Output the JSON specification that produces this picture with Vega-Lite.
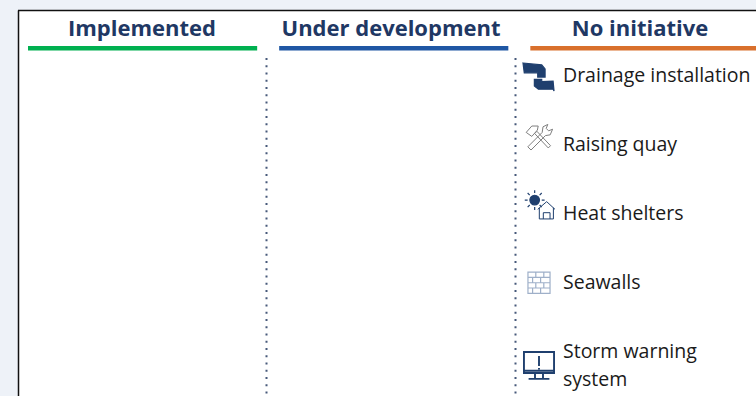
{
"$schema":"https://vega.github.io/schema/vega-lite/v6.json",
"width":738,"height":386,"autosize":{"type":"none"},"padding":{"left":18,"top":10,"right":0,"bottom":0},
"background":"#eef2f8",
"config":{"view":{"fill":"#ffffff","stroke":null}},
"datasets":{
"columns":[{"status":"Implemented"},{"status":"Under development"},{"status":"No initiative"}],
"items":[
{"status":"No initiative","item":"Drainage installation"},
{"status":"No initiative","item":"Raising quay"},
{"status":"No initiative","item":"Heat shelters"},
{"status":"No initiative","item":"Seawalls"},
{"status":"No initiative","item":"Storm warning\nsystem"}]},
"resolve":{"scale":{"x":"independent","y":"independent","shape":"independent"},"axis":{"x":"independent","y":"independent"}},
"layer":[
{"data":{"name":"columns"},"transform":[{"filter":"datum.status !== 'No initiative'"}],
"mark":{"type":"rule","strokeDash":[2,5.25],"strokeWidth":2,"color":"#47597a"},
"encoding":{
"x":{"field":"status","type":"nominal","bandPosition":1,"sort":null,
"scale":{"type":"band","domain":["Implemented","Under development","No initiative"],"range":[-0.5,746.5],"paddingInner":0,"paddingOuter":0},
"axis":{"orient":"top","title":null,"ticks":false,"grid":false,"domain":true,"domainColor":"#111111","domainWidth":1.5,"labelAngle":0,"labelPadding":-30,"labelFont":"Open Sans","labelFontWeight":700,"labelFontSize":22,"labelColor":"#1f3864","labelOverlap":false,"labelBound":false,"labelFlush":false,"labelLimit":0}},
"y":{"datum":0.1244,"type":"quantitative","scale":{"domain":[0,1],"range":[0,386],"nice":false,"zero":false},
"axis":{"title":null,"ticks":false,"labels":false,"grid":false,"domain":true,"domainColor":"#111111","domainWidth":1.5}},
"y2":{"datum":1}}},
{"data":{"name":"columns"},"mark":{"type":"bar"},
"encoding":{
"x":{"field":"status","type":"nominal","axis":null,"sort":null,
"scale":{"type":"band","domain":["Implemented","Under development","No initiative"],"range":[10,741.5],"paddingInner":0.0876,"paddingOuter":0}},
"y":{"datum":"header","type":"nominal","axis":null,"scale":{"type":"band","domain":["header"],"range":[36,40.5],"paddingInner":0,"paddingOuter":0}},
"color":{"field":"status","type":"nominal","legend":null,"scale":{"domain":["Implemented","Under development","No initiative"],"range":["#00b050","#1f57a4","#d9702c"]}}}},
{"data":{"name":"items"},"mark":{"type":"text","align":"left","baseline":"alphabetic","dx":-77,"dy":6.5,"lineBreak":"\n","lineHeight":28,"font":"Open Sans","fontSize":19.5,"color":"#1a1a1a"},
"encoding":{
"x":{"field":"status","type":"nominal","axis":null,"sort":null,
"scale":{"type":"band","domain":["Implemented","Under development","No initiative"],"range":[-0.5,746.5],"paddingInner":0,"paddingOuter":0}},
"y":{"field":"item","type":"nominal","axis":null,"sort":null,
"scale":{"type":"band","domain":["Drainage installation","Raising quay","Heat shelters","Seawalls","Storm warning\nsystem"],"range":[30.4,376.6],"paddingInner":0,"paddingOuter":0}},
"text":{"field":"item"}}},
{"data":{"name":"items"},"mark":{"type":"point","filled":true,"xOffset":-101,"size":1024,"stroke":"#1f3f6e","strokeWidth":1.2,"fill":"#1f3f6e","opacity":1},
"encoding":{
"x":{"field":"status","type":"nominal","axis":null,"sort":null,
"scale":{"type":"band","domain":["Implemented","Under development","No initiative"],"range":[-0.5,746.5],"paddingInner":0,"paddingOuter":0}},
"y":{"field":"item","type":"nominal","axis":null,"sort":null,
"scale":{"type":"band","domain":["Drainage installation","Raising quay","Heat shelters","Seawalls","Storm warning\nsystem"],"range":[30.4,376.6],"paddingInner":0,"paddingOuter":0}},
"shape":{"field":"item","type":"nominal","legend":null,"scale":{"domain":["Drainage installation","Raising quay","Heat shelters","Seawalls","Storm warning\nsystem"],
"range":[
"M-1,-.75 L.17,-.63 L.38,-.38 L.38,.13 L-.08,.13 L-.08,-.14 L-.92,-.14Z M-.29,.27 L.17,.27 L.17,.41 L.88,.38 L.94,1 L.88,.89 L-.04,.89 L-.29,.69Z",
"M0,0Z",
"M-.57,-.84 A.3,.3 0 1 1 .03,-.84 A.3,.3 0 1 1 -.57,-.84Z M-.27,-1.28 L-.27,-1.46 M-.27,-.4 L-.27,-.22 M-.71,-.84 L-.89,-.84 M.17,-.84 L.35,-.84 M-.58,-1.15 L-.71,-1.28 M.04,-1.15 L.17,-1.28 M-.58,-.53 L-.71,-.4 M.04,-.53 L.17,-.4",
"M0,0Z",
"M0,0Z"]}}}},
{"data":{"name":"items"},"mark":{"type":"point","filled":false,"xOffset":-101,"size":1024,"opacity":1},
"encoding":{
"x":{"field":"status","type":"nominal","axis":null,"sort":null,
"scale":{"type":"band","domain":["Implemented","Under development","No initiative"],"range":[-0.5,746.5],"paddingInner":0,"paddingOuter":0}},
"y":{"field":"item","type":"nominal","axis":null,"sort":null,
"scale":{"type":"band","domain":["Drainage installation","Raising quay","Heat shelters","Seawalls","Storm warning\nsystem"],"range":[30.4,376.6],"paddingInner":0,"paddingOuter":0}},
"shape":{"field":"item","type":"nominal","legend":null,"scale":{"domain":["Drainage installation","Raising quay","Heat shelters","Seawalls","Storm warning\nsystem"],
"range":[
"M0,0Z",
"M-.13,-.81 L.72,.09 L.58,.23 L-.27,-.67Z M-.8,-.74 L-.45,-1.14 L-.05,-1.14 L-.1,-.89 L-.45,-.49Z M-.7,.16 L.2,-.74 L.25,-1.09 L.55,-1.24 L.45,-.99 L.6,-.84 L.85,-.94 L.7,-.59 L.4,-.54 L-.5,.36Z",
"M-.08,-.26 L.48,-.74 L1,-.26 M.02,-.36 L.02,.34 L.9,.34 L.9,-.36 M.27,.34 L.27,-.05 L.69,-.05 L.69,.34",
"M-.69,-.66 L.69,-.66 L.69,.66 L-.69,.66Z M-.69,-.33 L.69,-.33 M-.69,0 L.69,0 M-.69,.33 L.69,.33 M-.2,-.66 L-.2,-.33 M.3,-.66 L.3,-.33 M-.4,-.33 L-.4,0 M.1,-.33 L.1,0 M-.2,0 L-.2,.33 M.3,0 L.3,.33 M-.4,.33 L-.4,.66 M.1,.33 L.1,.66",
"M-.94,0 L.94,0 L.94,1.31 L-.94,1.31Z M-.94,1.17 L.94,1.17 M-.25,1.38 L-.25,1.65 M.25,1.38 L.25,1.65 M-.65,1.68 L.65,1.68 M0,.25 L0,.88 M0,1 L0,1.09"]}},
"stroke":{"field":"item","type":"nominal","legend":null,"scale":{"domain":["Drainage installation","Raising quay","Heat shelters","Seawalls","Storm warning\nsystem"],"range":["#1f3f6e","#7f7f7f","#1f3f6e","#9fb0c9","#1f3f6e"]}},
"strokeWidth":{"field":"item","type":"nominal","legend":null,"scale":{"type":"ordinal","domain":["Drainage installation","Raising quay","Heat shelters","Seawalls","Storm warning\nsystem"],"range":[1,1,1,1.2,1.9]}}}}
]}
